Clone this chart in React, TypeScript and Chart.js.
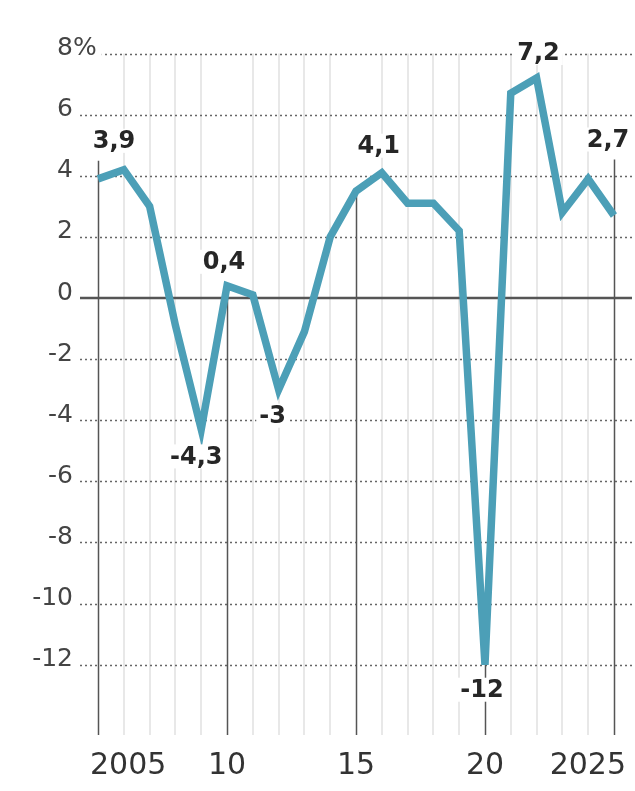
import React, { useEffect, useRef } from "react";
import { Chart, registerables } from "chart.js";

Chart.register(...registerables);

const years = [2005, 2006, 2007, 2008, 2009, 2010, 2011, 2012, 2013, 2014, 2015, 2016, 2017, 2018, 2019, 2020, 2021, 2022, 2023, 2024, 2025];
const growth = [3.9, 4.2, 3.0, -0.9, -4.3, 0.4, 0.1, -3.0, -1.1, 2.0, 3.5, 4.1, 3.1, 3.1, 2.2, -12.0, 6.7, 7.2, 2.8, 3.9, 2.7];
const labeledYears = [2005, 2009, 2010, 2012, 2016, 2020, 2022, 2025];
const yTicks = [-12, -10, -8, -6, -4, -2, 0, 2, 4, 6, 8];
const xTicks = [2005, 2010, 2015, 2020, 2025];
const xTickLabels = ["2005", "10", "15", "20", "2025"];

// label placement (pixel offsets of label centre from the point) - styling only
const labelOffsets: Record<number, [number, number]> = {
  2005: [16, -38],
  2009: [-5, 27],
  2010: [-3, -24],
  2012: [-6, 26],
  2016: [-3, -27],
  2020: [-3, 25],
  2022: [2, -25],
  2025: [-6, -76],
};

const FONT = '"DejaVu Sans", sans-serif';

const fmt = (v: number) => String(v).replace(".", ",");

const decorPlugin = {
  id: "decor",
  beforeDatasetsDraw(chart: any) {
    const { ctx, chartArea, scales } = chart;
    const { left, right, bottom } = chartArea;
    const x = scales.x;
    const y = scales.y;
    const yTop = y.getPixelForValue(yTicks[yTicks.length - 1]);
    ctx.save();
    // minor vertical lines (every year)
    ctx.strokeStyle = "rgba(0,0,0,0.09)";
    ctx.lineWidth = 2;
    years.forEach((yr) => {
      if (xTicks.includes(yr)) return;
      const px = Math.round(x.getPixelForValue(yr));
      ctx.beginPath();
      ctx.moveTo(px, yTop);
      ctx.lineTo(px, bottom);
      ctx.stroke();
    });
    // dotted horizontal grid
    ctx.strokeStyle = "#666";
    ctx.lineWidth = 1.6;
    ctx.setLineDash([2, 3]);
    yTicks.forEach((t) => {
      if (t === 0) return;
      const py = Math.round(y.getPixelForValue(t)) + 0.5;
      ctx.beginPath();
      ctx.moveTo(left, py);
      ctx.lineTo(right, py);
      ctx.stroke();
    });
    ctx.setLineDash([]);
    // zero line
    ctx.strokeStyle = "#555";
    ctx.lineWidth = 2.5;
    const p0 = y.getPixelForValue(0);
    ctx.beginPath();
    ctx.moveTo(left, p0);
    ctx.lineTo(right, p0);
    ctx.stroke();
    // heavy vertical lines at labelled years
    ctx.strokeStyle = "#555";
    ctx.lineWidth = 1.5;
    xTicks.forEach((yr, i) => {
      const idx = years.indexOf(yr);
      const px = Math.round(x.getPixelForValue(yr)) + 0.5;
      let top = y.getPixelForValue(growth[idx]);
      const off = labelOffsets[yr];
      if ((i === 0 || i === xTicks.length - 1) && off) {
        top = top + off[1] + 20;
      }
      ctx.beginPath();
      ctx.moveTo(px, top);
      ctx.lineTo(px, bottom);
      ctx.stroke();
    });
    ctx.restore();
  },
  afterDatasetsDraw(chart: any) {
    const { ctx, chartArea, scales } = chart;
    const { left, right, bottom } = chartArea;
    const x = scales.x;
    const y = scales.y;
    ctx.save();
    // y tick labels
    ctx.font = `25px ${FONT}`;
    ctx.textBaseline = "alphabetic";
    const labelRight = left - 7;
    yTicks.forEach((t, i) => {
      const py = y.getPixelForValue(t);
      const txt = String(t);
      ctx.fillStyle = "#444";
      ctx.textAlign = "right";
      ctx.fillText(txt, labelRight, py + 1.5);
      if (i === yTicks.length - 1) {
        const w = ctx.measureText("%").width;
        ctx.fillStyle = "#fff";
        ctx.fillRect(labelRight, py - 20, w + 5, 24);
        ctx.fillStyle = "#444";
        ctx.textAlign = "left";
        ctx.fillText("%", labelRight, py + 1.5);
      }
    });
    // x tick labels
    ctx.font = `30px ${FONT}`;
    ctx.fillStyle = "#333";
    ctx.textAlign = "left";
    xTicks.forEach((yr, i) => {
      const txt = xTickLabels[i];
      const w = ctx.measureText(txt).width;
      let lx = x.getPixelForValue(yr) - w / 2;
      if (lx < left + 10) lx = left + 10;
      if (lx + w > right - 6) lx = right - 6 - w;
      ctx.fillText(txt, lx, bottom + 39);
    });
    // data labels
    ctx.font = `bold 24px ${FONT}`;
    ctx.textAlign = "center";
    ctx.textBaseline = "middle";
    labeledYears.forEach((yr) => {
      const idx = years.indexOf(yr);
      const v = growth[idx];
      const off = labelOffsets[yr] || [0, -25];
      const cx = x.getPixelForValue(yr) + off[0];
      const cy = y.getPixelForValue(v) + off[1];
      const txt = fmt(v);
      const w = ctx.measureText(txt).width;
      ctx.fillStyle = "#fff";
      ctx.fillRect(cx - w / 2 - 3, cy - 12, w + 6, 24);
      ctx.fillStyle = "#262626";
      ctx.fillText(txt, cx, cy + 1);
    });
    ctx.restore();
  },
};

export default function App() {
  const ref = useRef<HTMLCanvasElement | null>(null);
  useEffect(() => {
    document.body.style.margin = "0";
    if (!ref.current) return;
    const chart = new Chart(ref.current, {
      type: "line",
      data: {
        datasets: [
          {
            data: years.map((yr, i) => ({ x: yr, y: growth[i] })),
            borderColor: "#4c9fb7",
            borderWidth: 7.5,
            pointRadius: 0,
            tension: 0,
            borderJoinStyle: "miter",
            fill: false,
          },
        ],
      },
      options: {
        responsive: false,
        animation: false,
        devicePixelRatio: 1,
        layout: { padding: { left: 80, right: 3, top: 23, bottom: 56 } },
        plugins: { legend: { display: false }, tooltip: { enabled: false } },
        scales: {
          x: { type: "linear", min: 2004.3, max: 2025.7, display: false },
          y: { type: "linear", min: -14.3, max: 9, display: false },
        },
      },
      plugins: [decorPlugin],
    } as any);
    return () => chart.destroy();
  }, []);
  return (
    <div style={{ position: "fixed", left: 0, top: 0, width: 635, height: 791, background: "#fff" }}>
      <canvas ref={ref} width={635} height={791} />
    </div>
  );
}
